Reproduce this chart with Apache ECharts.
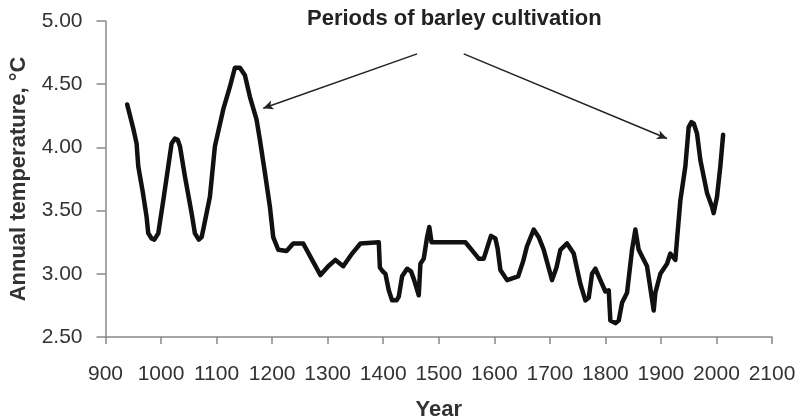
<!DOCTYPE html>
<html>
<head>
<meta charset="utf-8">
<script src="https://cdn.jsdelivr.net/npm/echarts@6/dist/echarts.min.js"></script>
<style>
  html, body { margin: 0; padding: 0; background: #fff; }
  #chart { width: 798px; height: 420px; }
</style>
</head>
<body>
<div id="chart"></div>
<script>
// reconstructed annual temperature
const years = [
  939, 950, 956, 959, 967, 974, 977, 983, 988, 995,
  1004, 1013, 1019, 1025, 1030, 1034, 1043, 1055, 1061, 1068,
  1073, 1076, 1088, 1097, 1112, 1124, 1133, 1142, 1151, 1160,
  1172, 1178, 1187, 1196, 1202, 1211, 1226, 1238, 1256, 1272,
  1287, 1301, 1314, 1328, 1344, 1359, 1392, 1394, 1399, 1404,
  1410, 1416, 1424, 1428, 1434, 1443, 1450, 1455, 1464, 1467,
  1473, 1479, 1483, 1487, 1548, 1563, 1572, 1581, 1594, 1602,
  1606, 1611, 1623, 1643, 1652, 1659, 1671, 1680, 1689, 1704,
  1712, 1719, 1731, 1743, 1755, 1764, 1770, 1776, 1782, 1791,
  1800, 1806, 1809, 1818, 1824, 1830, 1839, 1848, 1854, 1860,
  1875, 1887, 1890, 1899, 1911, 1917, 1926, 1929, 1935, 1944,
  1950, 1955, 1959, 1965, 1971, 1983, 1992, 1995, 2001, 2007,
  2012
];
const temps = [
  4.34, 4.15, 4.03, 3.85, 3.65, 3.45, 3.32, 3.28, 3.27, 3.32,
  3.58, 3.85, 4.03, 4.07, 4.06, 4.01, 3.77, 3.48, 3.32, 3.27,
  3.29, 3.35, 3.61, 4.01, 4.30, 4.48, 4.63, 4.63, 4.57, 4.40,
  4.22, 4.06, 3.80, 3.53, 3.29, 3.19, 3.18, 3.24, 3.24, 3.11,
  2.99, 3.06, 3.11, 3.06, 3.16, 3.24, 3.25, 3.05, 3.02, 3.00,
  2.87, 2.79, 2.79, 2.82, 2.98, 3.04, 3.02, 2.96, 2.83, 3.08,
  3.12, 3.29, 3.37, 3.25, 3.25, 3.17, 3.12, 3.12, 3.30, 3.28,
  3.20, 3.03, 2.95, 2.98, 3.10, 3.22, 3.35, 3.29, 3.19, 2.95,
  3.05, 3.19, 3.24, 3.16, 2.92, 2.79, 2.81, 3.00, 3.04, 2.95,
  2.86, 2.87, 2.63, 2.61, 2.63, 2.77, 2.85, 3.19, 3.35, 3.19,
  3.06, 2.71, 2.85, 3.00, 3.08, 3.16, 3.11, 3.27, 3.58, 3.85,
  4.16, 4.20, 4.19, 4.11, 3.90, 3.64, 3.53, 3.48, 3.61, 3.85,
  4.10
];

// annotation arrows (start, end) in data space
const arrowFrom = [[1461, 4.74], [1545, 4.74]];
const arrowTo = [[1184, 4.31], [1911, 4.07]];
const noteText = 'Periods of barley cultivation';

const chart = echarts.init(document.getElementById('chart'));
const fontFamily = 'Liberation Sans, Arial, sans-serif';

const option = {
  animation: false,
  backgroundColor: '#fff',
  title: {
    text: noteText,
    left: 302,
    top: 3,
    textStyle: { fontFamily, fontSize: 22, fontWeight: 'bold', color: '#222' }
  },
  grid: { left: 105.5, right: 26, top: 21, bottom: 83, outerBoundsMode: 'none' },
  xAxis: {
    type: 'value',
    min: 900,
    max: 2100,
    interval: 100,
    name: 'Year',
    nameLocation: 'middle',
    nameGap: 62,
    nameTextStyle: { fontFamily, fontSize: 22, fontWeight: 'bold', color: '#333' },
    axisLine: { lineStyle: { color: '#888', width: 1.5 } },
    axisTick: { show: true, length: 7, lineStyle: { color: '#888', width: 1.5 } },
    axisLabel: {
      fontFamily, fontSize: 21, color: '#333', margin: 27,
      formatter: v => String(v)
    },
    splitLine: { show: false }
  },
  yAxis: {
    type: 'value',
    min: 2.5,
    max: 5,
    interval: 0.5,
    name: 'Annual temperature, °C',
    nameLocation: 'middle',
    nameGap: 76,
    nameTextStyle: { fontFamily, fontSize: 22, fontWeight: 'bold', color: '#333' },
    axisLine: { show: true, lineStyle: { color: '#888', width: 1.5 } },
    axisTick: { show: true, length: 9, lineStyle: { color: '#888', width: 1.5 } },
    axisLabel: {
      fontFamily, fontSize: 21, color: '#333', margin: 23,
      formatter: v => v.toFixed(2)
    },
    splitLine: { show: false }
  },
  series: [{
    type: 'line',
    data: years.map((y, i) => [y, temps[i]]),
    showSymbol: false,
    symbol: 'none',
    lineStyle: { color: '#111', width: 4.5, join: 'round', cap: 'round' },
    markLine: {
      silent: true,
      symbol: ['none', 'arrow'],
      symbolSize: [7, 10],
      label: { show: false },
      lineStyle: { color: '#222', width: 1.5, type: 'solid' },
      data: arrowFrom.map((p, i) => [{ coord: p }, { coord: arrowTo[i] }])
    }
  }]
};

chart.setOption(option);
</script>
</body>
</html>
